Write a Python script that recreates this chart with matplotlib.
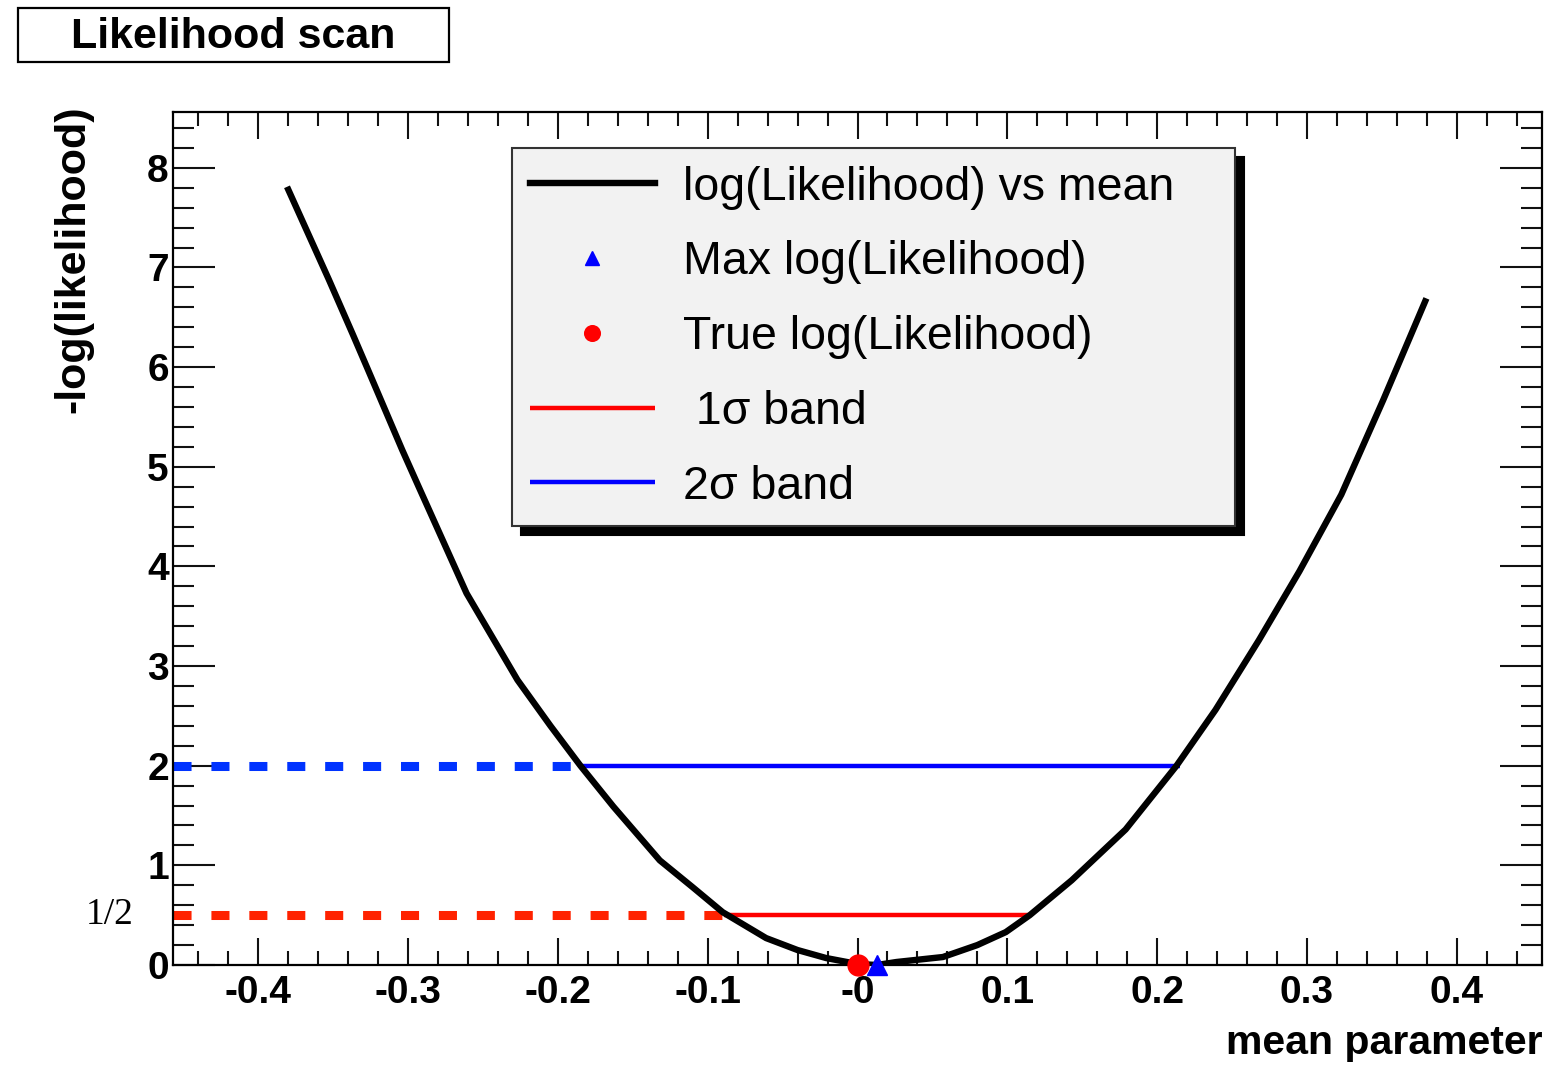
import matplotlib
matplotlib.use('Agg')
import matplotlib.pyplot as plt
from matplotlib.patches import Rectangle

# scan of -log(likelihood) vs mean parameter
mean_values = [-0.380, -0.353, -0.337, -0.327, -0.304, -0.293, -0.261, -0.227, -0.205, -0.185,
               -0.163, -0.132, -0.110, -0.090, -0.061, -0.040, -0.021, 0.000, 0.013, 0.026,
               0.057, 0.080, 0.099, 0.115, 0.143, 0.179, 0.213, 0.239, 0.268, 0.295,
               0.323, 0.351, 0.379]
nll_values = [7.78, 6.88, 6.33, 5.98, 5.17, 4.80, 3.73, 2.86, 2.40, 2.00,
              1.59, 1.05, 0.78, 0.53, 0.27, 0.15, 0.07, 0.01, 0.00, 0.03,
              0.08, 0.20, 0.33, 0.50, 0.85, 1.36, 2.00, 2.56, 3.26, 3.95,
              4.72, 5.67, 6.66]

max_point = (0.013, 0.0)
true_point = (0.0, 0.0)

one_sigma_level = 0.5
one_sigma_band = (-0.089, 0.115)
two_sigma_level = 2.0
two_sigma_band = (-0.185, 0.215)

x_ticks = [-0.4, -0.3, -0.2, -0.1, 0.0, 0.1, 0.2, 0.3, 0.4]
x_tick_labels = ['-0.4', '-0.3', '-0.2', '-0.1', '-0', '0.1', '0.2', '0.3', '0.4']
y_ticks = [0, 1, 2, 3, 4, 5, 6, 7, 8]
y_tick_labels = ['0', '1', '2', '3', '4', '5', '6', '7', '8']

x_min, x_max = -0.457, 0.457
y_min, y_max = 0.0, 8.56

W, H = 1549, 1070
fig = plt.figure(figsize=(W / 100, H / 100), dpi=100)
ax = fig.add_axes([173 / W, 1 - 965 / H, (1542 - 173) / W, (965 - 112) / H])

# dashed guides from the axis to the band edges
ax.plot([x_min, two_sigma_band[0]], [two_sigma_level, two_sigma_level], color='#0033ff',
        lw=6.5, linestyle=(0, (2.0, 2.2)), solid_capstyle='butt', dash_capstyle='butt')
ax.plot([x_min, one_sigma_band[0]], [one_sigma_level, one_sigma_level], color='#ff2200',
        lw=6.5, linestyle=(0, (2.0, 2.2)), solid_capstyle='butt', dash_capstyle='butt')

# bands
line_1s, = ax.plot(one_sigma_band, [one_sigma_level, one_sigma_level], color='#ff0000', lw=3.2,
                   solid_capstyle='butt')
line_2s, = ax.plot(two_sigma_band, [two_sigma_level, two_sigma_level], color='#0000ff', lw=3.2,
                   solid_capstyle='butt')

# likelihood curve
curve, = ax.plot(mean_values, nll_values, color='black', lw=4.6)

true_mark, = ax.plot([true_point[0]], [true_point[1]], 'o', color='#ff0000', ms=15,
                     clip_on=False, zorder=5)
max_mark, = ax.plot([max_point[0]], [max_point[1]], '^', color='#0000ff', ms=14,
                    clip_on=False, zorder=4)

ax.set_xlim(x_min, x_max)
ax.set_ylim(y_min, y_max)

tick_font = {'family': 'Liberation Sans', 'weight': 'bold', 'size': 28}
ax.set_xticks(x_ticks)
ax.set_xticklabels(x_tick_labels, fontdict=tick_font)
ax.set_xticks([round(-0.44 + 0.02 * i, 2) for i in range(45)], minor=True)
ax.set_yticks(y_ticks)
ax.set_yticklabels(y_tick_labels, fontdict=tick_font)
ax.set_yticks([0.2 * i for i in range(43)], minor=True)

ax.tick_params(which='both', direction='in', top=True, right=True, width=1.5, color='#111111')
ax.xaxis.set_tick_params(which='major', length=19.5, pad=7)
ax.xaxis.set_tick_params(which='minor', length=10)
ax.yaxis.set_tick_params(which='major', length=30, pad=3)
ax.yaxis.set_tick_params(which='minor', length=15)
for s in ax.spines.values():
    s.set_linewidth(1.6)

ax.set_xlabel('mean parameter', loc='right',
              fontdict={'family': 'Liberation Sans', 'weight': 'bold', 'size': 29.5})
ax.xaxis.set_label_coords(1.0, -0.069)
ax.set_ylabel('-log(likelihood)', loc='top',
              fontdict={'family': 'Liberation Sans', 'weight': 'bold', 'size': 31})
ax.yaxis.set_label_coords(-0.058, 1.008)

# the 1/2 marker next to the axis
ax.text(-0.046, one_sigma_level, '1/2', transform=ax.get_yaxis_transform(),
        ha='center', va='center', family='Liberation Serif', size=27)

leg = ax.legend([curve, max_mark, true_mark, line_1s, line_2s],
                ['log(Likelihood) vs mean', 'Max log(Likelihood)', 'True log(Likelihood)',
                 ' 1\u03c3 band', '2\u03c3 band'],
                loc='upper left', mode='expand',
                bbox_to_anchor=(512 / W, 1 - 522 / H, 723 / W, 374 / H),
                bbox_transform=fig.transFigure,
                prop={'family': 'Liberation Sans', 'size': 33.5},
                handlelength=2.69, handletextpad=0.6, labelspacing=0.66, borderpad=0.38,
                borderaxespad=0, fancybox=False, framealpha=1, markerscale=0.75,
                shadow={'ox': 6.5, 'oy': -6.5, 'facecolor': 'black', 'edgecolor': 'black', 'alpha': 1})
leg.get_frame().set_facecolor('#f2f2f2')
leg.get_frame().set_edgecolor('#333333')
leg.get_frame().set_linewidth(1.5)

# title box
fig.add_artist(Rectangle((18 / W, 1 - 62 / H), 431 / W, 54 / H, transform=fig.transFigure,
                         facecolor='white', edgecolor='black', lw=1.6))
fig.text(233 / W, 1 - 37 / H, 'Likelihood scan', ha='center', va='center',
         family='Liberation Sans', weight='bold', size=31)

fig.savefig('out.png', dpi=100)
